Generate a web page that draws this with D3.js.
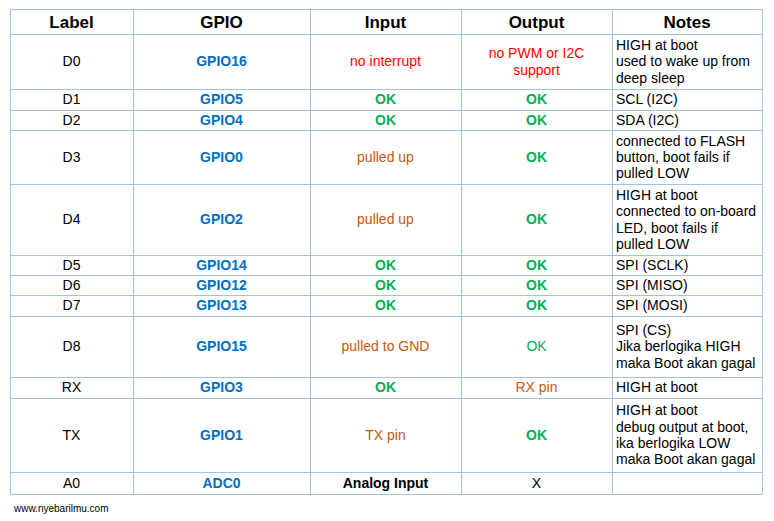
<!DOCTYPE html>
<html><head><meta charset="utf-8">
<script src="https://cdn.jsdelivr.net/npm/d3@7"></script>
<style>body{margin:0;background:#fff}</style></head>
<body><svg id="c" width="774" height="521"></svg>
<script>
const headers = ["Label","GPIO","Input","Output","Notes"];
const labels = ["D0","D1","D2","D3","D4","D5","D6","D7","D8","RX","TX","A0"];
const gpios = ["GPIO16","GPIO5","GPIO4","GPIO0","GPIO2","GPIO14","GPIO12","GPIO13","GPIO15","GPIO3","GPIO1","ADC0"];
const inputs = ["no interrupt","OK","OK","pulled up","pulled up","OK","OK","OK","pulled to GND","OK","TX pin","Analog Input"];
const outputs = [["no PWM or I2C","support"],["OK"],["OK"],["OK"],["OK"],["OK"],["OK"],["OK"],["OK"],["RX pin"],["OK"],["X"]];
const notes = [
 ["HIGH at boot","used to wake up from","deep sleep"],["SCL (I2C)"],["SDA (I2C)"],
 ["connected to FLASH","button, boot fails if","pulled LOW"],
 ["HIGH at boot","connected to on-board","LED, boot fails if","pulled LOW"],
 ["SPI (SCLK)"],["SPI (MISO)"],["SPI (MOSI)"],
 ["SPI (CS)","Jika berlogika HIGH","maka Boot akan gagal"],["HIGH at boot"],
 ["HIGH at boot","debug output at boot,","ika berlogika LOW","maka Boot akan gagal"],[""]];
// layout
const colEdges=[10,133,310,461,612,762];
const rowEdges=[9,34,89,110,130,184,255,275,295,316,377,398,472,494];
const svg=d3.select("#c");
const font="Liberation Sans, Arial, sans-serif";
const border="#9dc3e6";
function style(t,i,col){
  if(t==="OK") return (col==="out"&&i===8)?{fill:"#00b050",w:"normal"}:{fill:"#00b050",w:"bold"};
  if(t.startsWith("no ")||t==="support") return {fill:"#ff0000",w:"normal"};
  if(t.startsWith("pulled")||t.endsWith("pin")) return {fill:"#c55a11",w:"normal"};
  if(t==="Analog Input") return {fill:"#000",w:"bold"};
  return {fill:"#000",w:"normal"};
}
const g=svg.append("g");
rowEdges.forEach(y=>g.append("line").attr("x1",10).attr("x2",762).attr("y1",y+.5).attr("y2",y+.5).attr("stroke",border));
colEdges.forEach(x=>g.append("line").attr("x1",x+.5).attr("x2",x+.5).attr("y1",rowEdges[0]).attr("y2",494).attr("stroke",border));
const cx=i=>(colEdges[i]+colEdges[i+1])/2;
const cy=r=>(rowEdges[r]+rowEdges[r+1])/2;
headers.forEach((h,i)=>g.append("text").attr("x",cx(i)).attr("y",cy(0)+1).attr("dy","0.35em").attr("text-anchor","middle")
  .attr("font-family",font).attr("font-size",17).attr("font-weight","bold").text(h));
function lines(linesArr,x,yc,anchor,stf){
  const lh=16.3, n=linesArr.length;
  linesArr.forEach((t,k)=>{const s=stf(t);
    g.append("text").attr("x",x).attr("y",yc+(k-(n-1)/2)*lh).attr("dy","0.35em").attr("text-anchor",anchor)
     .attr("font-family",font).attr("font-size",14).attr("fill",s.fill).attr("font-weight",s.w).text(t);});
}
labels.forEach((l,i)=>{
  const r=i+1,y=cy(r);
  lines([l],cx(0),y,"middle",()=>({fill:"#000",w:"normal"}));
  lines([gpios[i]],cx(1),y,"middle",()=>({fill:"#0070c0",w:"bold"}));
  lines([inputs[i]],cx(2),y,"middle",t=>style(t,i,"in"));
  lines(outputs[i],cx(3),y,"middle",t=>style(t,i,"out"));
  lines(notes[i],616,y,"start",()=>({fill:"#000",w:"normal"}));
});
svg.append("text").attr("x",14).attr("y",512).attr("font-family",font).attr("font-size",10).text("www.nyebarilmu.com");
</script></body></html>
